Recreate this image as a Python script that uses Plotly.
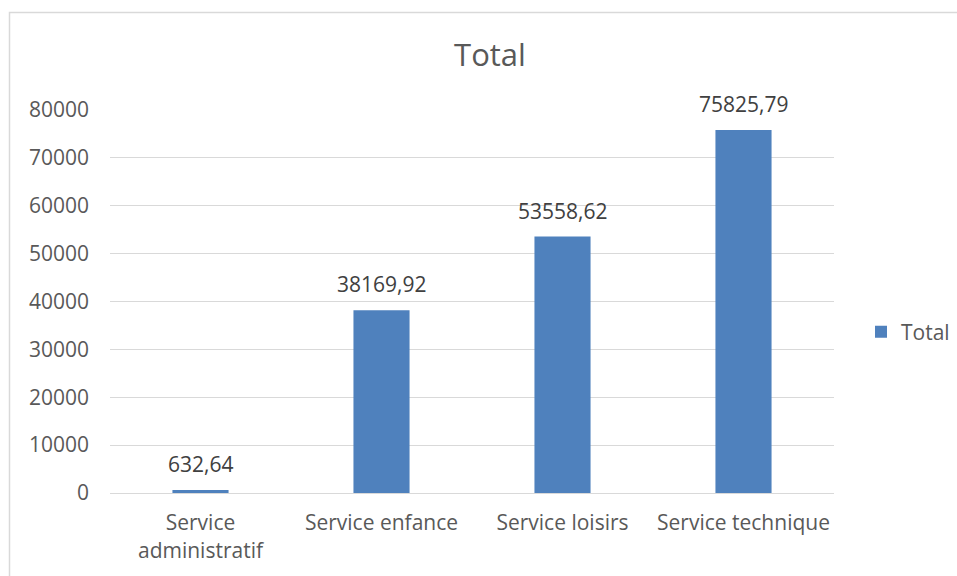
import plotly.graph_objects as go

categories = ["Service<br>administratif", "Service enfance", "Service loisirs", "Service technique"]
values = [632.64, 38169.92, 53558.62, 75825.79]
labels = [f"{v:.2f}".replace(".", ",") for v in values]
y_ticks = [0, 10000, 20000, 30000, 40000, 50000, 60000, 70000, 80000]

FONT = "Open Sans"
GREY = "#595959"

fig = go.Figure()
fig.add_trace(go.Bar(
    x=categories, y=values, name="Total",
    marker=dict(color="#4f81bd", line=dict(width=0)),
    hoverinfo="x+y",
))

for c, v, t in zip(categories, values, labels):
    fig.add_annotation(x=c, y=v, text=t, showarrow=False, yanchor="bottom", yshift=10,
                       font=dict(family=FONT, size=21, color="#404040"))

W, H = 957, 576
L, R, T, B = 110, 123, 110, 83
pw = W - L - R
ph = H - T - B

def px_x(x):
    return (x - L) / pw

def px_y(y):
    return (H - B - y) / ph

fig.update_layout(
    width=W, height=H,
    margin=dict(l=L, r=R, t=T, b=B, autoexpand=False),
    paper_bgcolor="white", plot_bgcolor="white",
    font=dict(family=FONT, color=GREY, size=21),
    title=dict(text="Total", x=490 / W, xanchor="center", y=1 - 55 / H, yanchor="middle",
               font=dict(family=FONT, size=31, color=GREY)),
    bargap=0.69,
    showlegend=True,
    legend=dict(xref="container", yref="container", x=861 / W, y=1 - 332 / H,
                xanchor="left", yanchor="middle",
                font=dict(family=FONT, size=21, color=GREY), itemwidth=30),
    xaxis=dict(showgrid=False, showline=True, linecolor="#d9d9d9", linewidth=1,
               ticks="", ticklabelstandoff=11,
               tickfont=dict(family=FONT, size=21, color=GREY)),
    yaxis=dict(range=[0, 80000], tickvals=y_ticks, ticktext=[str(v) for v in y_ticks],
               showgrid=True, gridcolor="#d9d9d9", gridwidth=1, zeroline=False,
               showline=False, ticks="", ticklabelstandoff=20,
               tickfont=dict(family=FONT, size=21, color=GREY)),
    shapes=[dict(type="rect", xref="paper", yref="paper",
                 x0=px_x(9.5), x1=px_x(1000), y0=px_y(12.5), y1=px_y(700),
                 line=dict(color="#d9d9d9", width=1.5), fillcolor="rgba(0,0,0,0)", layer="below")],
)

fig.write_html("out.html", config={"displayModeBar": False},
               post_script="document.body.style.margin='0';")
